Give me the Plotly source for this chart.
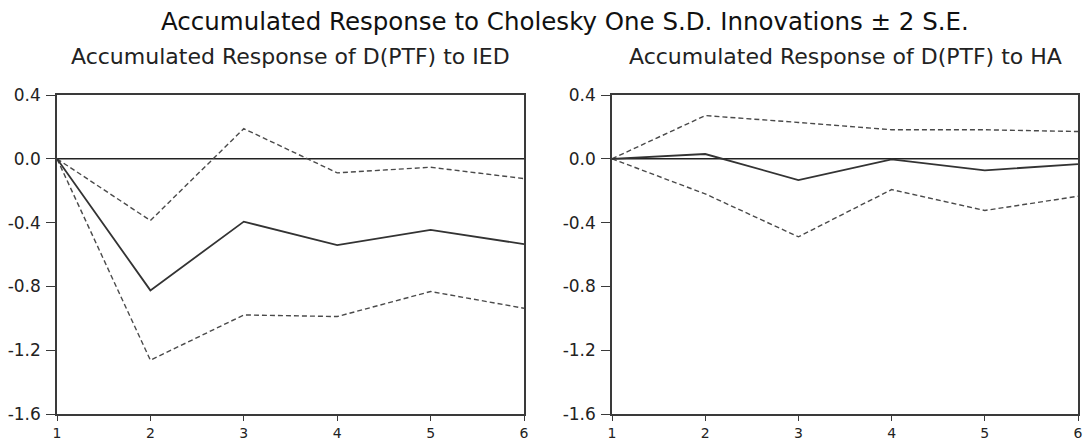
import plotly.graph_objects as go

# Forecast horizon (periods)
periods = [1, 2, 3, 4, 5, 6]

# Accumulated response of D(PTF) to IED
ied_response = [0.0, -0.825, -0.394, -0.541, -0.446, -0.535]
ied_upper = [0.0, -0.387, 0.189, -0.088, -0.053, -0.124]
ied_lower = [0.0, -1.263, -0.979, -0.989, -0.832, -0.937]

# Accumulated response of D(PTF) to HA
ha_response = [0.0, 0.030, -0.133, -0.004, -0.072, -0.034]
ha_upper = [0.0, 0.271, 0.228, 0.182, 0.182, 0.171]
ha_lower = [0.0, -0.220, -0.489, -0.193, -0.324, -0.235]

y_ticks = [0.4, 0.0, -0.4, -0.8, -1.2, -1.6]
y_tick_text = ["0.4", "0.0", "-0.4", "-0.8", "-1.2", "-1.6"]

main_title = "Accumulated Response to Cholesky One S.D. Innovations \u00b1 2 S.E."
panel_titles = ["Accumulated Response of D(PTF) to IED",
                "Accumulated Response of D(PTF) to HA"]

W, H = 1084, 442
FONT = "DejaVu Sans"
AXIS_COLOR = "#3a3a3a"

fig = go.Figure()

panels = [
    ("x", "y", ied_response, ied_upper, ied_lower),
    ("x2", "y2", ha_response, ha_upper, ha_lower),
]

for xa, ya, resp, up, lo in panels:
    # zero reference line
    fig.add_trace(go.Scatter(x=[periods[0], periods[-1]], y=[0, 0], mode="lines",
                             line=dict(color="#222222", width=1.5),
                             xaxis=xa, yaxis=ya, hoverinfo="skip"))
    for band in (up, lo):
        fig.add_trace(go.Scatter(x=periods, y=band, mode="lines",
                                 line=dict(color="#4a4a4a", width=1.4, dash="5px,3px"),
                                 xaxis=xa, yaxis=ya))
    fig.add_trace(go.Scatter(x=periods, y=resp, mode="lines",
                             line=dict(color="#333333", width=1.8),
                             xaxis=xa, yaxis=ya))

x_domains = [[57 / W, 524 / W], [612 / W, 1078 / W]]
y_domain = [1 - 414 / H, 1 - 95 / H]

axis_common = dict(showline=True, linecolor=AXIS_COLOR, linewidth=1.6, mirror=True,
                   showgrid=False, zeroline=False, ticks="outside", ticklen=9,
                   tickwidth=1.3, tickcolor=AXIS_COLOR, ticklabeloverflow="allow")

layout = dict(
    width=W, height=H,
    margin=dict(l=0, r=0, t=0, b=0, autoexpand=False),
    paper_bgcolor="white", plot_bgcolor="white",
    showlegend=False,
    font=dict(family=FONT, color="#222222"),
)

for i, suffix in enumerate(["", "2"]):
    layout["xaxis" + suffix] = dict(
        axis_common, domain=x_domains[i], range=[1, 6], tickvals=periods,
        ticktext=[str(p) for p in periods], tickfont=dict(size=14, family=FONT),
        anchor="y" + suffix, ticklen=5, ticklabelstandoff=0)
    layout["yaxis" + suffix] = dict(
        axis_common, domain=y_domain, range=[-1.6, 0.4], tickvals=y_ticks,
        ticktext=y_tick_text, tickfont=dict(size=17, family=FONT),
        anchor="x" + suffix, ticklabelstandoff=2)

fig.update_layout(**layout)

fig.add_annotation(text=main_title, x=565 / W, y=1 - 21 / H, xref="paper", yref="paper",
                   xanchor="center", yanchor="middle", showarrow=False,
                   font=dict(size=24.5, family=FONT, color="#111111"))
for i, t in enumerate(panel_titles):
    cx = (x_domains[i][0] + x_domains[i][1]) / 2
    fig.add_annotation(text=t, x=cx, y=1 - 57 / H, xref="paper", yref="paper",
                       xanchor="center", yanchor="middle", showarrow=False,
                       font=dict(size=22, family=FONT, color="#222222"))

fig.write_html("out.html")
